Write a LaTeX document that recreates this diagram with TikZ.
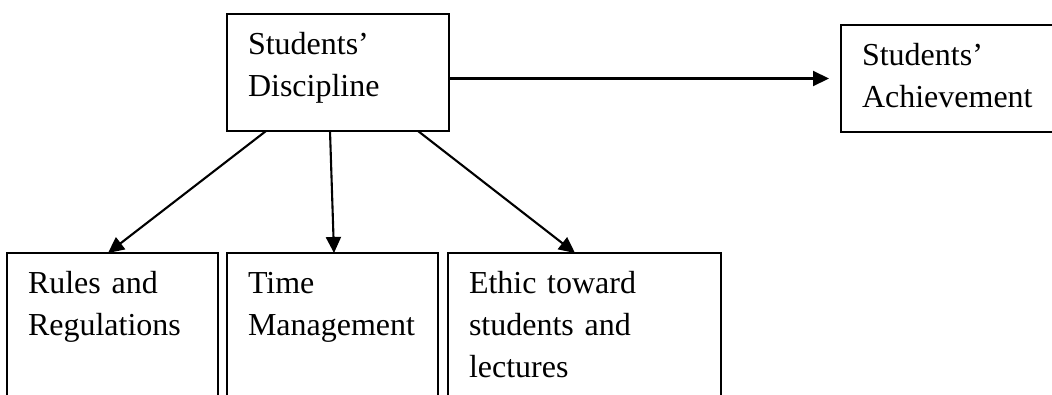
\documentclass[tikz,border=0pt]{standalone}
\usepackage{fontspec}
\setmainfont{Liberation Serif}
\usetikzlibrary{arrows.meta}

\begin{document}
\begin{tikzpicture}[x=1pt,y=-1pt]
	\tikzstyle{box} = [draw, line width=2.3pt, outer sep=0pt, anchor=north west, align=left, inner xsep=21pt, inner ysep=0pt, text height=40.5pt, font=\fontsize{32}{42}\selectfont]
	\tikzstyle{line} = [line width=2.1pt, -{Triangle[length=16pt,width=15pt]}]
	\useasboundingbox (0,0) rectangle (1052,394);
	\node(disc)[box, text width=180pt, text depth=76.5pt] at (227,14) {Students’\\Discipline};
	\node(ach)[box, text width=198pt, text depth=66.5pt] at (841,25) {Students’\\Achievement};
	\node(rules)[box, text width=169pt, text depth=120pt] at (7,253) {Rules and\\Regulations};
	\node(time)[box, text width=169pt, text depth=120pt] at (227,253) {Time\\Management};
	\node(ethic)[box, text width=231pt, text depth=120pt] at (448,253) {Ethic toward\\students and\\lectures};
	\draw[line, shorten >=12pt](disc.east |- ach.west) -- (ach.west);
	\draw[line]([xshift=39pt]disc.south west) -- ([xshift=101pt]rules.north west);
	\draw[line]([xshift=103pt]disc.south west) -- ([xshift=107pt]time.north west);
	\draw[line]([xshift=191pt]disc.south west) -- ([xshift=127pt]ethic.north west);
\end{tikzpicture}
\end{document}
